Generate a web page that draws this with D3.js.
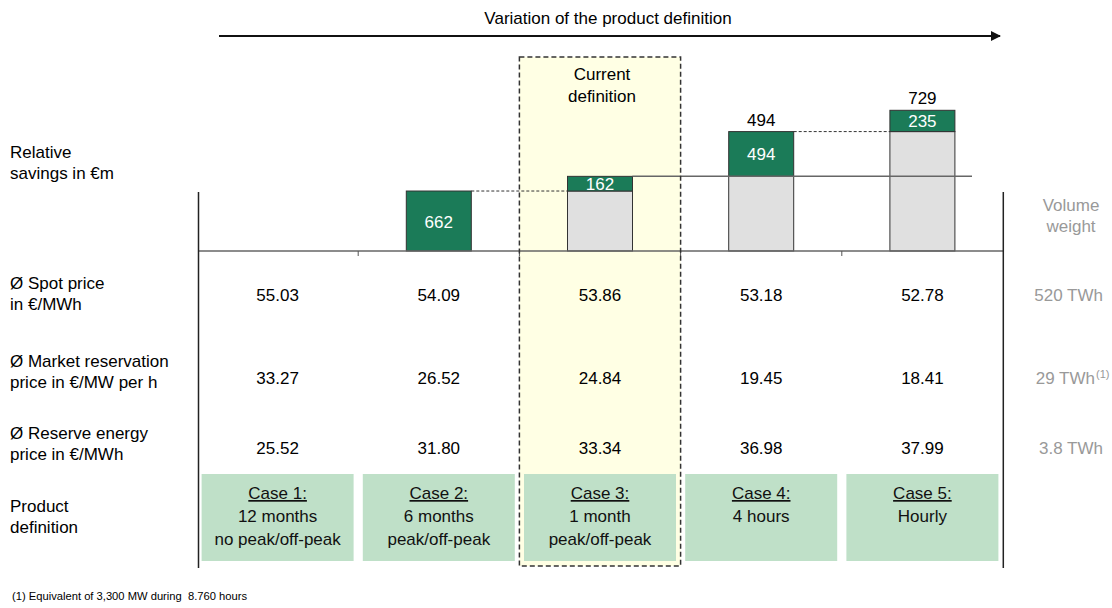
<!DOCTYPE html>
<html>
<head>
<meta charset="utf-8">
<script src="https://cdn.jsdelivr.net/npm/d3@7"></script>
<style>
  body { margin: 0; background: #fff; }
  text { font-family: "Liberation Sans", Arial, sans-serif; }
</style>
</head>
<body>
<div id="chart"></div>
<script>

// data
var cases = ["Case 1:", "Case 2:", "Case 3:", "Case 4:", "Case 5:"];
var caseLines = [["12 months", "no peak/off-peak"], ["6 months", "peak/off-peak"],
                 ["1 month", "peak/off-peak"], ["4 hours"], ["Hourly"]];
var savings = [0, 662, 162, 494, 235];          // step of each case
var topLabels = [null, null, null, "494", "729"]; // relative to current definition
var spotPrice = ["55.03", "54.09", "53.86", "53.18", "52.78"];
var reservationPrice = ["33.27", "26.52", "24.84", "19.45", "18.41"];
var reservePrice = ["25.52", "31.80", "33.34", "36.98", "37.99"];
var volumeWeights = ["520 TWh", "29 TWh", "3.8 TWh"];
var currentCase = 2;

var width = 1112, height = 608;
var green = "#1b7b58", lightGreen = "#bfe0c8", grey = "#e0e0e0", dark = "#333";

var svg = d3.select("#chart").append("svg")
    .attr("width", width)
    .attr("height", height);

// scales
var x = d3.scaleBand().domain(cases).range([197, 1003]);
var y = d3.scaleLinear().domain([0, 1600]).range([251, 251 - 1600 * 0.0906]);
var barW = 65, boxW = 152;

// stack the steps
var data = [];
var base = 0;
savings.forEach(function(v, i) {
  data.push({ c: cases[i], base: base, value: v, i: i });
  base += v;
});

// current definition box (fill)
svg.append("rect")
    .attr("x", x(cases[currentCase]))
    .attr("y", 57)
    .attr("width", x.bandwidth())
    .attr("height", 509)
    .attr("fill", "#ffffe4");

// title + arrow
svg.append("defs").append("marker")
    .attr("id", "arrow")
    .attr("viewBox", "0 0 10 10")
    .attr("refX", 9).attr("refY", 5)
    .attr("markerWidth", 5).attr("markerHeight", 5)
    .attr("orient", "auto")
  .append("path")
    .attr("d", "M0,0L10,5L0,10Z")
    .attr("fill", "#111");

svg.append("line")
    .attr("x1", 219).attr("x2", 1000)
    .attr("y1", 36).attr("y2", 36)
    .attr("stroke", "#111")
    .attr("stroke-width", 2)
    .attr("marker-end", "url(#arrow)");

svg.append("text")
    .attr("x", 608).attr("y", 24)
    .attr("text-anchor", "middle")
    .style("font-size", "17px")
    .text("Variation of the product definition");

svg.append("text")
    .attr("text-anchor", "middle")
    .style("font-size", "17px")
    .selectAll("tspan")
    .data(["Current", "definition"])
    .enter().append("tspan")
    .attr("x", x(cases[currentCase]) + x.bandwidth() / 2 + 2)
    .attr("y", function(d, i) { return 80 + i * 22; })
    .text(function(d) { return d; });

// grey base bars
svg.selectAll(".base")
    .data(data.filter(function(d) { return d.base > 0; }))
    .enter().append("rect")
    .attr("x", function(d) { return x(d.c) + (x.bandwidth() - barW) / 2; })
    .attr("y", function(d) { return y(d.base); })
    .attr("width", barW)
    .attr("height", function(d) { return y(0) - y(d.base); })
    .attr("fill", grey)
    .attr("stroke", dark);

// green step bars
svg.selectAll(".step")
    .data(data.filter(function(d) { return d.value > 0; }))
    .enter().append("rect")
    .attr("x", function(d) { return x(d.c) + (x.bandwidth() - barW) / 2; })
    .attr("y", function(d) { return y(d.base + d.value); })
    .attr("width", barW)
    .attr("height", function(d) { return y(d.base) - y(d.base + d.value); })
    .attr("fill", green)
    .attr("stroke", dark);

svg.selectAll(".stepLabel")
    .data(data.filter(function(d) { return d.value > 0; }))
    .enter().append("text")
    .attr("x", function(d) { return x(d.c) + x.bandwidth() / 2; })
    .attr("y", function(d) { return (y(d.base) + y(d.base + d.value)) / 2 + 6.5; })
    .attr("text-anchor", "middle")
    .style("font-size", "17px")
    .style("fill", "#fff")
    .text(function(d) { return d.value; });

svg.selectAll(".topLabel")
    .data(data.filter(function(d) { return topLabels[d.i]; }))
    .enter().append("text")
    .attr("x", function(d) { return x(d.c) + x.bandwidth() / 2; })
    .attr("y", function(d) { return y(d.base + d.value) - 6; })
    .attr("text-anchor", "middle")
    .style("font-size", "17px")
    .text(function(d) { return topLabels[d.i]; });

// dotted connectors (case 2 -> 3, case 4 -> 5)
[1, 3].forEach(function(i) {
  var d = data[i];
  svg.append("line")
      .attr("x1", x(d.c) + (x.bandwidth() + barW) / 2)
      .attr("x2", x(cases[i + 1]) + (x.bandwidth() - barW) / 2)
      .attr("y1", y(d.base + d.value))
      .attr("y2", y(d.base + d.value))
      .attr("stroke", dark)
      .attr("stroke-dasharray", "3,2");
});

// reference line at current definition
var cur = data[currentCase];
svg.append("line")
    .attr("x1", x(cur.c) + (x.bandwidth() + barW) / 2)
    .attr("x2", 972)
    .attr("y1", y(cur.base + cur.value))
    .attr("y2", y(cur.base + cur.value))
    .attr("stroke", "#666")
    .attr("stroke-width", 1.5);

// baseline and ticks
svg.append("line")
    .attr("x1", 198).attr("x2", 1003)
    .attr("y1", y(0)).attr("y2", y(0))
    .attr("stroke", "#666")
    .attr("stroke-width", 1.5);

svg.selectAll(".tick")
    .data(cases.slice(1))
    .enter().append("line")
    .attr("x1", function(d) { return x(d); })
    .attr("x2", function(d) { return x(d); })
    .attr("y1", y(0)).attr("y2", y(0) + 5)
    .attr("stroke", "#555");

// frame verticals
[198.5, 1003.3].forEach(function(xx) {
  svg.append("line")
      .attr("x1", xx).attr("x2", xx)
      .attr("y1", 192).attr("y2", 568)
      .attr("stroke", "#222")
      .attr("stroke-width", 1.5);
});

// table rows
var rows = [
  { label: ["Relative", "savings in €m"], y: 158 },
  { label: ["Ø Spot price", "in €/MWh"], y: 289, values: spotPrice, vy: 301 },
  { label: ["Ø Market reservation", "price in €/MW per h"], y: 367, values: reservationPrice, vy: 384 },
  { label: ["Ø Reserve energy", "price in €/MWh"], y: 439, values: reservePrice, vy: 454 },
  { label: ["Product", "definition"], y: 512 }
];

rows.forEach(function(r) {
  svg.append("text")
      .style("font-size", "17px")
      .selectAll("tspan")
      .data(r.label)
      .enter().append("tspan")
      .attr("x", 10)
      .attr("y", function(d, i) { return r.y + i * 21; })
      .text(function(d) { return d; });

  if (r.values) {
    svg.selectAll(null)
        .data(r.values)
        .enter().append("text")
        .attr("x", function(d, i) { return x(cases[i]) + x.bandwidth() / 2; })
        .attr("y", r.vy)
        .attr("text-anchor", "middle")
        .style("font-size", "17px")
        .text(function(d) { return d; });
  }
});

// volume weight column
svg.append("text")
    .attr("text-anchor", "middle")
    .style("font-size", "17px")
    .style("fill", "#999")
    .selectAll("tspan")
    .data(["Volume", "weight"])
    .enter().append("tspan")
    .attr("x", 1071)
    .attr("y", function(d, i) { return 211 + i * 21; })
    .text(function(d) { return d; });

svg.selectAll(".vw")
    .data(volumeWeights)
    .enter().append("text")
    .attr("x", function(d, i) { return i === 1 ? 1095 : 1103; })
    .attr("y", function(d, i) { return rows[i + 1].vy; })
    .attr("text-anchor", "end")
    .style("font-size", "17px")
    .style("fill", "#999")
    .text(function(d) { return d; });

svg.append("text")
    .attr("x", 1096).attr("y", rows[2].vy - 6)
    .style("font-size", "11px")
    .style("fill", "#999")
    .text("(1)");

// product definition boxes
var boxes = svg.selectAll(".case")
    .data(cases)
    .enter().append("g")
    .attr("transform", function(d) {
      return "translate(" + (x(d) + x.bandwidth() / 2) + ",0)";
    });

boxes.append("rect")
    .attr("x", -boxW / 2)
    .attr("y", 474)
    .attr("width", boxW)
    .attr("height", 87)
    .attr("fill", lightGreen);

boxes.append("text")
    .attr("y", 499)
    .attr("text-anchor", "middle")
    .style("font-size", "17px")
    .style("text-decoration", "underline")
    .style("fill", "#111")
    .text(function(d) { return d; });

boxes.each(function(d, i) {
  d3.select(this).selectAll(".line")
      .data(caseLines[i])
      .enter().append("text")
      .attr("y", function(t, j) { return 522 + j * 23; })
      .attr("text-anchor", "middle")
      .style("font-size", "17px")
      .style("fill", "#111")
      .text(function(t) { return t; });
});

// current definition box (dashed border)
svg.append("rect")
    .attr("x", x(cases[currentCase]))
    .attr("y", 57)
    .attr("width", x.bandwidth())
    .attr("height", 509)
    .attr("fill", "none")
    .attr("stroke", dark)
    .attr("stroke-width", 1.5)
    .attr("stroke-dasharray", "5,3");

// footnote
svg.append("text")
    .attr("x", 12).attr("y", 600)
    .attr("xml:space", "preserve")
    .style("font-size", "11.2px")
    .style("white-space", "pre")
    .text("(1) Equivalent of 3,300 MW during  8.760 hours");

</script>
</body>
</html>
